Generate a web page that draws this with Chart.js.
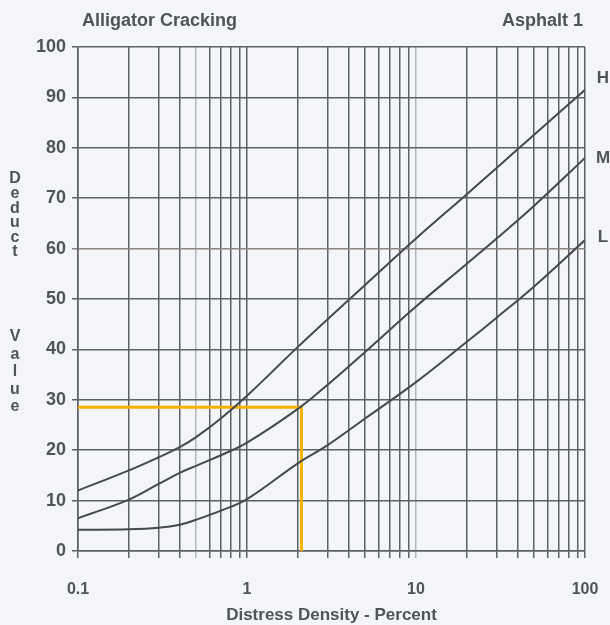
<!DOCTYPE html>
<html>
<head>
<meta charset="utf-8">
<script src="https://cdn.jsdelivr.net/npm/chart.js@4"></script>
<style>
  html, body { margin: 0; padding: 0; background: #f3f5f8; }
  canvas { display: block; }
</style>
</head>
<body>
<canvas id="chart" width="610" height="625"></canvas>
<script>
// distress density (%) sampled along each severity curve
const densities = [0.1, 0.2, 0.3, 0.4, 0.5, 0.7, 1, 2, 3, 5, 10, 20, 30, 50, 100];
const highDeduct = [12, 16, 18.6, 20.6, 22.6, 26.3, 30.8, 40.5, 46, 52.8, 62, 70.8, 76, 82.6, 91.5];
const mediumDeduct = [6.5, 10.2, 13.3, 15.5, 16.9, 19, 21.5, 28.2, 33, 39.5, 48.5, 57, 62, 68.5, 78];
const lowDeduct = [4.2, 4.3, 4.6, 5.2, 6.2, 8, 10.3, 17.4, 21, 26.3, 33.5, 41.5, 46.3, 52.5, 61.7];
const curveNames = ['H', 'M', 'L'];

// reading guide: density 2.1 % on the M curve
const guideX = [0.1, 2.1, 2.1];
const guideY = [28.5, 28.5, 0];

// log grid lines and which of them carry a label
const xGridValues = [0.1, 0.2, 0.3, 0.4, 0.5, 0.6, 0.7, 0.8, 0.9,
                     1, 2, 3, 4, 5, 6, 7, 8, 9,
                     10, 20, 30, 40, 50, 60, 70, 80, 90, 100];
const xLabelValues = [0.1, 1, 10, 100];
const xFaintValues = [0.5, 10];

const textColor = '#505357';
const gridColor = '#5d6065';
const curveColor = '#45484c';
const boldFont = size => ({ family: "'Liberation Sans', Arial, sans-serif", size: size, weight: 'bold' });

const toPoints = (xs, ys) => xs.map((x, i) => ({ x: x, y: ys[i] }));

const curveStyle = {
  borderColor: curveColor,
  borderWidth: 2,
  pointRadius: 0,
  fill: false,
  tension: 0.4
};

// titles, stacked y title and curve labels
const annotations = {
  id: 'annotations',
  afterDraw(chart) {
    const ctx = chart.ctx;
    const area = chart.chartArea;
    ctx.save();
    ctx.fillStyle = textColor;
    ctx.textBaseline = 'alphabetic';

    ctx.font = "bold 18px 'Liberation Sans', Arial, sans-serif";
    ctx.textAlign = 'left';
    ctx.fillText('Alligator Cracking', 82, 26);
    ctx.textAlign = 'right';
    ctx.fillText('Asphalt 1', 583, 26);

    ctx.font = "bold 17px 'Liberation Sans', Arial, sans-serif";
    ctx.textAlign = 'center';
    ctx.fillText('Distress Density - Percent', (area.left + area.right) / 2, 620);

    // vertical title, one upright letter per line
    ctx.font = "bold 16px 'Liberation Sans Narrow', 'Liberation Sans', Arial, sans-serif";
    ctx.textBaseline = 'middle';
    'Deduct'.split('').forEach((c, i) => ctx.fillText(c, 15, 179 + i * 14.6));
    'Value'.split('').forEach((c, i) => ctx.fillText(c, 15, 337 + i * 17.5));

    // severity labels beside the curve ends
    const yScale = chart.scales.y;
    const offsets = [-12, 0, -3];
    ctx.font = "bold 17px 'Liberation Sans', Arial, sans-serif";
    [highDeduct, mediumDeduct, lowDeduct].forEach((vals, i) => {
      const py = yScale.getPixelForValue(vals[vals.length - 1]) + offsets[i];
      ctx.fillText(curveNames[i], 603, py);
    });
    ctx.restore();
  }
};

new Chart(document.getElementById('chart'), {
  type: 'line',
  data: {
    datasets: [
      Object.assign({ label: 'H', data: toPoints(densities, highDeduct) }, curveStyle),
      Object.assign({ label: 'M', data: toPoints(densities, mediumDeduct) }, curveStyle),
      Object.assign({ label: 'L', data: toPoints(densities, lowDeduct) }, curveStyle),
      {
        label: 'guide',
        data: toPoints(guideX, guideY),
        borderColor: '#f6b400',
        borderWidth: 3,
        pointRadius: 0,
        tension: 0,
        fill: false
      }
    ]
  },
  options: {
    responsive: false,
    animation: false,
    layout: { padding: { top: 47, right: 25, left: 0, bottom: 0 } },
    plugins: {
      legend: { display: false },
      tooltip: { enabled: false },
      title: { display: false }
    },
    scales: {
      x: {
        type: 'logarithmic',
        min: 0.1,
        max: 100,
        afterBuildTicks: scale => {
          scale.ticks = xGridValues.map(v => ({ value: v }));
        },
        afterFit: scale => {
          scale.height = 74;
          // end labels may hang past the plot edges
          scale.paddingLeft = 0;
          scale.paddingRight = 0;
        },
        ticks: {
          autoSkip: false,
          maxRotation: 0,
          padding: 22,
          color: textColor,
          font: boldFont(16),
          callback: v => xLabelValues.includes(v) ? String(v) : ''
        },
        grid: {
          color: ctx => xFaintValues.includes(ctx.tick && ctx.tick.value) ? '#b3b7bd' : gridColor,
          lineWidth: 1.5,
          tickLength: 7
        },
        border: { color: gridColor, width: 1.5 }
      },
      y: {
        min: 0,
        max: 100,
        afterFit: scale => { scale.width = 78; },
        ticks: {
          stepSize: 10,
          padding: 6,
          color: textColor,
          font: boldFont(18)
        },
        grid: {
          color: ctx => ctx.tick && ctx.tick.value === 60 ? '#8c8480' : gridColor,
          lineWidth: 1.5,
          tickLength: 6
        },
        border: { color: gridColor, width: 1.5 }
      }
    }
  },
  plugins: [annotations]
});
</script>
</body>
</html>
